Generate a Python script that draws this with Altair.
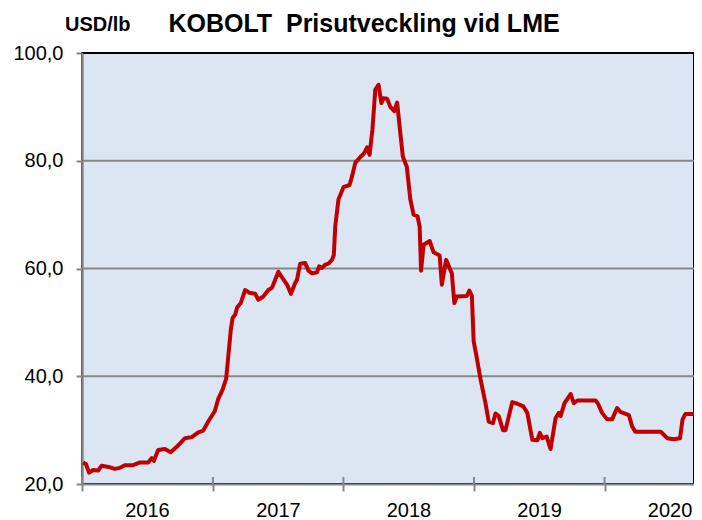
import altair as alt
import pandas as pd

dates = [
    "2016-01-04", "2016-01-12", "2016-01-21", "2016-02-01", "2016-02-15", "2016-02-25",
    "2016-03-19", "2016-04-02", "2016-04-16", "2016-04-30", "2016-05-23", "2016-06-11",
    "2016-07-04", "2016-07-14", "2016-07-20", "2016-08-01", "2016-08-20", "2016-09-05",
    "2016-09-22", "2016-10-15", "2016-11-03", "2016-11-21", "2016-12-05", "2016-12-19",
    "2017-01-06", "2017-01-16", "2017-01-28", "2017-02-07", "2017-02-13", "2017-02-20",
    "2017-02-25", "2017-03-04", "2017-03-10", "2017-03-20", "2017-04-01", "2017-04-13",
    "2017-04-29", "2017-05-08", "2017-05-22", "2017-06-05", "2017-06-15", "2017-07-03",
    "2017-07-17", "2017-07-28", "2017-08-07", "2017-08-19", "2017-08-24", "2017-09-02",
    "2017-09-16", "2017-09-25", "2017-10-05", "2017-10-19", "2017-10-25", "2017-11-02",
    "2017-11-11", "2017-11-20", "2017-11-30", "2017-12-05", "2017-12-09", "2017-12-18",
    "2018-01-01", "2018-01-18", "2018-01-25", "2018-02-03", "2018-02-17", "2018-02-28",
    "2018-03-08", "2018-03-15", "2018-03-23", "2018-03-31", "2018-04-09", "2018-04-17",
    "2018-04-23", "2018-05-03", "2018-05-12", "2018-05-23", "2018-05-31", "2018-06-09",
    "2018-06-16", "2018-06-27", "2018-07-07", "2018-07-16", "2018-07-27", "2018-08-02",
    "2018-08-06", "2018-08-13", "2018-08-30", "2018-09-10", "2018-09-27", "2018-10-03",
    "2018-10-15", "2018-10-31", "2018-11-07", "2018-11-14", "2018-12-12", "2018-12-19",
    "2018-12-26", "2018-12-31", "2019-01-08", "2019-01-19", "2019-02-02", "2019-02-11",
    "2019-02-23", "2019-03-02", "2019-03-11", "2019-03-23", "2019-03-30", "2019-04-18",
    "2019-05-02", "2019-05-19", "2019-05-30", "2019-06-13", "2019-06-27", "2019-07-04",
    "2019-07-11", "2019-07-23", "2019-08-03", "2019-08-17", "2019-08-26", "2019-08-31",
    "2019-09-11", "2019-09-28", "2019-10-07", "2019-10-17", "2019-12-07", "2019-12-13",
    "2019-12-25", "2020-01-08", "2020-01-22", "2020-02-05", "2020-02-14", "2020-03-09",
    "2020-03-18", "2020-03-27", "2020-06-06", "2020-06-24", "2020-07-13", "2020-07-30",
    "2020-08-06", "2020-08-14", "2020-09-07",
]
prices = [
    24.0, 23.7, 22.1, 22.6, 22.5, 23.4,
    23.1, 22.8, 23.0, 23.5, 23.5, 24.0,
    24.0, 24.8, 24.3, 26.3, 26.5, 25.9,
    26.9, 28.5, 28.7, 29.6, 29.9, 31.6,
    33.5, 35.8, 37.5, 39.5, 43.7, 48.6,
    50.8, 51.4, 52.8, 53.6, 56.0, 55.5,
    55.3, 54.2, 54.8, 56.0, 56.4, 59.4,
    58.0, 56.9, 55.3, 57.3, 57.9, 60.9,
    61.0, 59.6, 59.1, 59.3, 60.4, 60.1,
    60.7, 60.9, 61.6, 62.5, 67.8, 72.8,
    75.1, 75.5, 77.1, 79.6, 80.7, 81.4,
    82.5, 81.1, 85.8, 93.2, 94.1, 90.7,
    91.6, 91.5, 90.0, 89.2, 90.8, 85.1,
    80.8, 78.9, 72.8, 70.0, 69.7, 67.8,
    59.6, 64.4, 65.1, 63.0, 62.4, 57.0,
    61.6, 59.1, 53.6, 54.8, 54.9, 55.9,
    54.9, 46.5, 43.7, 39.5, 35.0, 31.6,
    31.3, 33.1, 32.6, 30.0, 30.0, 35.2,
    34.9, 34.4, 33.2, 28.2, 28.1, 29.5,
    28.5, 28.8, 26.5, 32.2, 33.2, 32.6,
    35.0, 36.7, 35.0, 35.5, 35.5, 35.0,
    33.2, 32.0, 32.0, 34.1, 33.4, 32.8,
    30.7, 29.7, 29.7, 28.5, 28.3, 28.5,
    32.0, 33.0, 33.0,
]
year_ticks = ["2016-01-01", "2017-01-01", "2018-01-01", "2019-01-01", "2020-01-01"]
y_ticks = [20, 40, 60, 80, 100]
grid_values = [40, 60, 80]
title_text = "KOBOLT\u00a0 Prisutveckling vid LME"
unit_text = "USD/lb"

FONT = "Liberation Sans"
GRAY = "#878787"
W, H = 612, 431

df = pd.DataFrame({"date": pd.to_datetime(dates), "price": prices})
ticks_df = pd.DataFrame({"date": pd.to_datetime(year_ticks)})
grid_df = pd.DataFrame({"v": grid_values})

x_scale = alt.Scale(domain=[alt.DateTime(year=2016, month=1, date=1),
                            alt.DateTime(year=2020, month=9, date=7)])
y_scale = alt.Scale(domain=[20, 100], nice=False, zero=False)

x_axis = alt.Axis(
    values=[alt.DateTime(year=int(d[:4]), month=1, date=1) for d in year_ticks],
    format="%Y", labelOffset=65, labelFlush=False, labelOverlap=False,
    tickSize=7, tickWidth=2, tickColor=GRAY, domainColor=GRAY, domainWidth=2,
    labelFontSize=20, labelFont=FONT, labelColor="black", labelPadding=9,
    grid=False, title=None,
)
y_axis = alt.Axis(
    values=y_ticks, labelExpr="replace(format(datum.value, '.1f'), '.', ',')",
    tickSize=6, tickWidth=2, tickColor=GRAY, domainColor=GRAY, domainWidth=2.5,
    labelFontSize=20, labelFont=FONT, labelColor="black", labelPadding=13,
    grid=False, title=None,
)

grid = alt.Chart(grid_df).mark_rule(color=GRAY, strokeWidth=2).encode(
    y=alt.Y("v:Q", scale=y_scale, axis=y_axis)
)

inner_ticks = alt.Chart(ticks_df).mark_rule(color=GRAY, strokeWidth=2).encode(
    x=alt.X("date:T", scale=x_scale, axis=x_axis),
    y=alt.value(H - 7), y2=alt.value(H),
)

line = alt.Chart(df).mark_line(color="#c00000", strokeWidth=4, strokeJoin="round").encode(
    x=alt.X("date:T", scale=x_scale, axis=x_axis),
    y=alt.Y("price:Q", scale=y_scale, axis=y_axis),
)

title = alt.Chart(pd.DataFrame({"t": [title_text]})).mark_text(
    font=FONT, fontSize=25, fontWeight="bold", align="center", baseline="alphabetic", color="black"
).encode(text="t:N", x=alt.value(282), y=alt.value(-21))

unit = alt.Chart(pd.DataFrame({"t": [unit_text]})).mark_text(
    font=FONT, fontSize=20, fontWeight="bold", align="left", baseline="alphabetic", color="black"
).encode(text="t:N", x=alt.value(-17), y=alt.value(-22))

chart = alt.layer(grid, inner_ticks, line, title, unit).properties(
    width=W, height=H,
    autosize=alt.AutoSizeParams(type="none"),
    padding={"left": 74, "top": 45, "right": 0, "bottom": 36},
    background="white",
).configure_view(
    fill="#dce6f2", stroke="black", strokeWidth=2
)

chart.save("out.html", embed_options={"renderer": "svg", "actions": False})
